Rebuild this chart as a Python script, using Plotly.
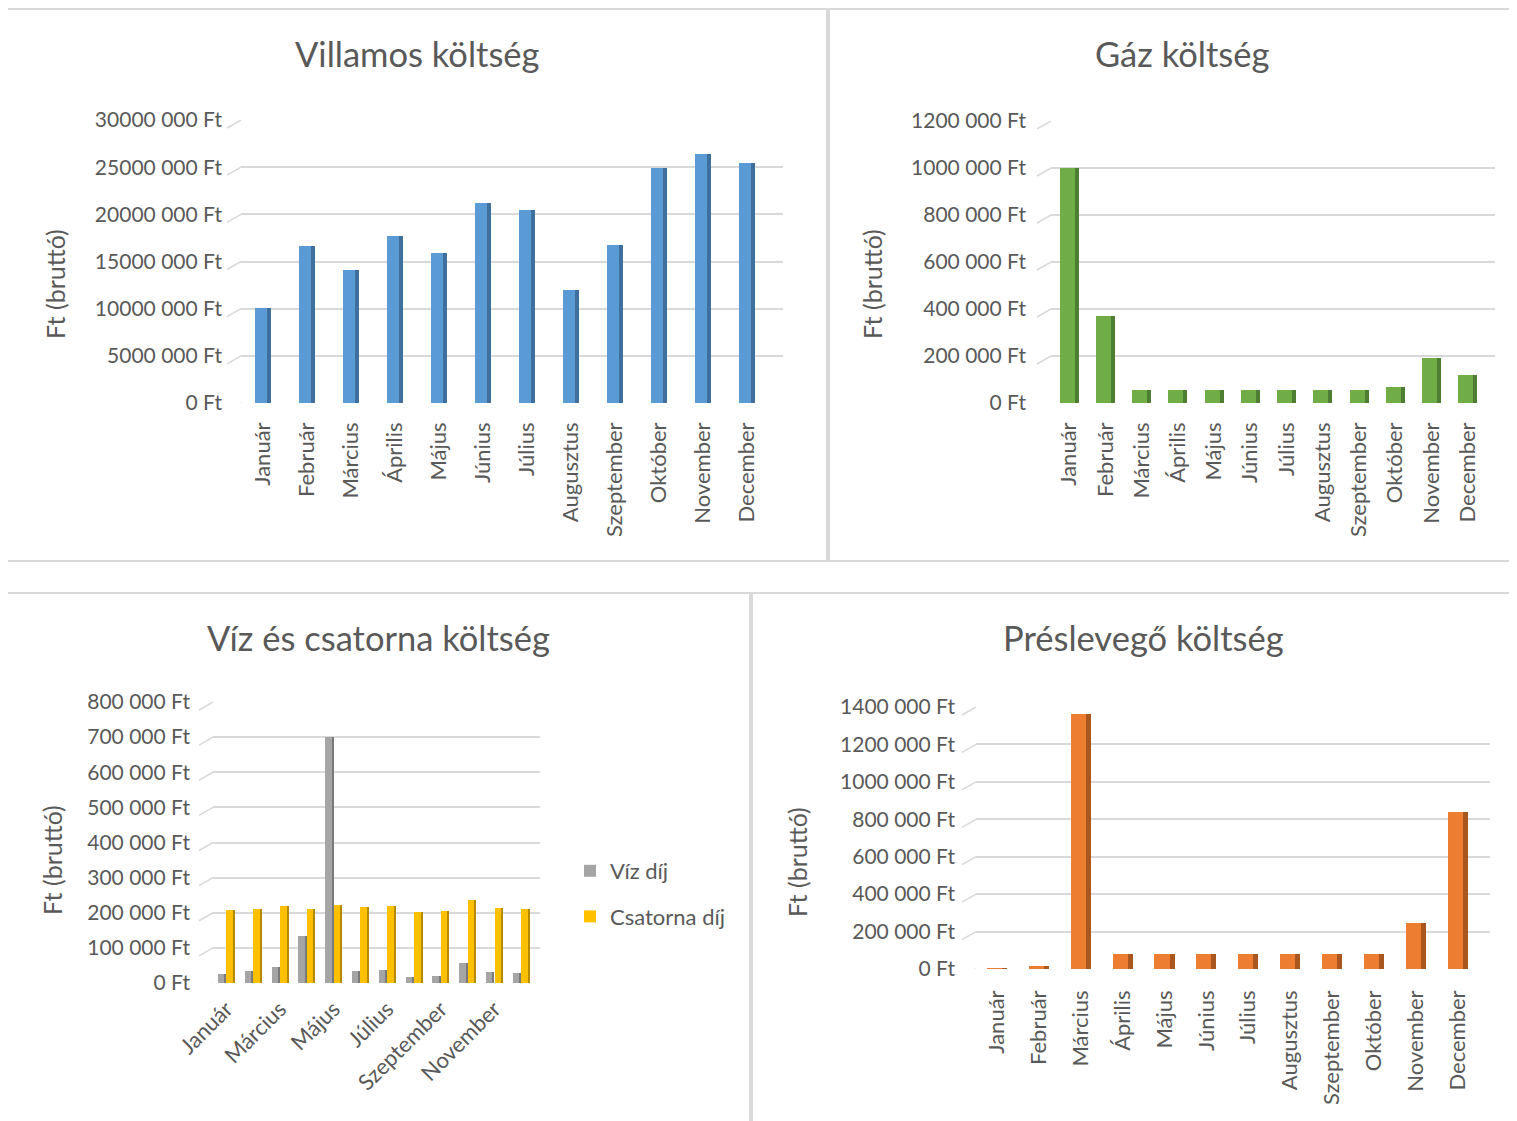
import plotly.graph_objects as go

# the page places the figure 8 px from the top-left corner (body margin)
OFF = 8
W, H = 1517 - OFF, 1121 - OFF

months = ["Január", "Február", "Március", "Április", "Május", "Június", "Július",
          "Augusztus", "Szeptember", "Október", "November", "December"]

villamos = [10.1e6, 16.6e6, 14.1e6, 17.7e6, 15.9e6, 21.2e6, 20.5e6, 12.0e6, 16.8e6, 24.9e6, 26.4e6, 25.4e6]
gaz = [1000000, 370000, 55000, 55000, 55000, 55000, 55000, 55000, 55000, 67000, 192000, 118000]
viz_dij = [25000, 33000, 45000, 135000, 700000, 35000, 37000, 18000, 21000, 57000, 32000, 28000]
csatorna_dij = [207000, 212000, 218000, 212000, 221000, 216000, 218000, 201000, 204000, 236000, 214000, 210000]
preslevego = [5000, 15000, 1360000, 78000, 78000, 78000, 78000, 78000, 78000, 78000, 245000, 840000]

villamos_ticks = [0, 5e6, 10e6, 15e6, 20e6, 25e6, 30e6]
villamos_ticktext = ["0 Ft", "5000 000 Ft", "10000 000 Ft", "15000 000 Ft", "20000 000 Ft", "25000 000 Ft", "30000 000 Ft"]
gaz_ticks = [0, 200000, 400000, 600000, 800000, 1000000, 1200000]
gaz_ticktext = ["0 Ft", "200 000 Ft", "400 000 Ft", "600 000 Ft", "800 000 Ft", "1000 000 Ft", "1200 000 Ft"]
viz_ticks = [0, 100000, 200000, 300000, 400000, 500000, 600000, 700000, 800000]
viz_ticktext = ["0 Ft", "100 000 Ft", "200 000 Ft", "300 000 Ft", "400 000 Ft", "500 000 Ft", "600 000 Ft", "700 000 Ft", "800 000 Ft"]
pres_ticks = [0, 200000, 400000, 600000, 800000, 1000000, 1200000, 1400000]
pres_ticktext = ["0 Ft", "200 000 Ft", "400 000 Ft", "600 000 Ft", "800 000 Ft", "1000 000 Ft", "1200 000 Ft", "1400 000 Ft"]
viz_month_ticks = ["Január", "Március", "Május", "Július", "Szeptember", "November"]

titles = ["Villamos költség", "Gáz költség", "Víz és csatorna költség", "Préslevegő költség"]
ytitle = "Ft (bruttó)"
series_names = ["Víz díj", "Csatorna díj"]

FONT = "Lato, 'Open Sans', sans-serif"
TXT = "#595959"
GRID = "#D9D9D9"


def px(x):
    return (x - OFF) / W


def py(y):
    return 1 - (y - OFF) / H


fig = go.Figure()


def add3d(xa, ya, x, y, front, side, c, fw, sw, name=None, showlegend=False, legendgroup=None):
    start = c - (fw + sw) / 2
    fig.add_trace(go.Bar(x=x, y=y, xaxis=xa, yaxis=ya, marker=dict(color=front, line=dict(width=0)),
                         width=fw, offset=start, name=name, showlegend=showlegend,
                         legendgroup=legendgroup, hoverinfo="x+y"))
    fig.add_trace(go.Bar(x=x, y=y, xaxis=xa, yaxis=ya, marker=dict(color=side, line=dict(width=0)),
                         width=sw, offset=start + fw, showlegend=False, legendgroup=legendgroup,
                         hoverinfo="skip"))


# Chart 1
add3d("x", "y", months, villamos, "#5B9BD5", "#3F6F9C", 0.0, 0.27, 0.09)
# Chart 2
add3d("x2", "y2", months, gaz, "#70AD47", "#4E7E31", 0.0, 0.41, 0.11)
# Chart 3
add3d("x3", "y3", months, viz_dij, "#A5A5A5", "#7A7A7A", -0.16, 0.24, 0.075,
      name=series_names[0], showlegend=True, legendgroup="g1")
add3d("x3", "y3", months, csatorna_dij, "#FFC000", "#B88A00", 0.16, 0.24, 0.075,
      name=series_names[1], showlegend=True, legendgroup="g2")
# Chart 4
add3d("x4", "y4", months, preslevego, "#ED7D31", "#A9561F", 0.0, 0.36, 0.12)

tickfont = dict(family=FONT, size=21, color=TXT)
catfont = dict(family=FONT, size=22, color=TXT)


def xaxis(dom, rng, angle, standoff, tickvals=None):
    d = dict(domain=[px(dom[0]), px(dom[1])], range=rng, type="category",
             showgrid=False, showline=False, zeroline=False, ticks="", automargin=False,
             tickangle=angle, tickfont=catfont, ticklabelstandoff=standoff,
             categoryorder="array", categoryarray=months)
    if tickvals is not None:
        d["tickvals"] = tickvals
        d["ticktext"] = tickvals
    return d


def yaxis(anchor, top, bottom, rng, tv, tt, standoff):
    return dict(anchor=anchor, domain=[py(bottom), py(top)], range=rng, tickvals=tv, ticktext=tt,
                showgrid=True, gridcolor=GRID, gridwidth=1.5, zeroline=False, showline=False,
                ticks="", tickfont=tickfont, ticklabelstandoff=standoff, automargin=False)


fig.update_layout(
    width=W, height=H, margin=dict(l=0, r=0, t=0, b=0, pad=0, autoexpand=False),
    paper_bgcolor="white", plot_bgcolor="rgba(0,0,0,0)",
    barmode="overlay", bargap=0,
    xaxis=dict(xaxis((241, 783), [-0.5, 11.82], -90, 14), anchor="y"),
    yaxis=yaxis("x", 120, 403, [0, 30e6], villamos_ticks, villamos_ticktext, 18),
    xaxis2=dict(xaxis((1051, 1495), [-0.5, 11.75], -90, 14), anchor="y2"),
    yaxis2=yaxis("x2", 121, 403, [0, 1.2e6], gaz_ticks, gaz_ticktext, 24),
    xaxis3=dict(xaxis((213, 540), [-0.5, 11.7], -45, 8, viz_month_ticks), anchor="y3"),
    yaxis3=yaxis("x3", 702, 983, [0, 800000], viz_ticks, viz_ticktext, 22),
    xaxis4=dict(xaxis((976, 1490), [-0.5, 11.77], -90, 16), anchor="y4"),
    yaxis4=yaxis("x4", 707, 969, [0, 1.4e6], pres_ticks, pres_ticktext, 20),
    legend=dict(x=px(570), y=py(850), xanchor="left", yanchor="top",
                font=dict(family=FONT, size=22, color=TXT), tracegroupgap=14,
                bgcolor="rgba(0,0,0,0)"),
    showlegend=True,
)

# chart borders
shapes = []
for (x0, y0, x1, y1) in [(7, 9, 827, 561), (829, 9, 1525, 561), (7, 593, 750, 1130), (752, 593, 1525, 1130)]:
    shapes.append(dict(type="rect", xref="paper", yref="paper", x0=px(x0), x1=px(x1), y0=py(y1), y1=py(y0),
                       line=dict(color="#D9D9D9", width=2), fillcolor="rgba(0,0,0,0)", layer="below"))

# 3D perspective diagonals at gridline starts
for xr, yr, tv in [("x domain", "y", villamos_ticks), ("x2 domain", "y2", gaz_ticks),
                   ("x3 domain", "y3", viz_ticks), ("x4 domain", "y4", pres_ticks)]:
    for v in tv:
        shapes.append(dict(type="line", xref=xr, yref=yr, xsizemode="pixel", ysizemode="pixel",
                           xanchor=0, yanchor=v, x0=-14, y0=-8, x1=0, y1=0,
                           line=dict(color=GRID, width=1.5), layer="below"))
fig.update_layout(shapes=shapes)

ann = []
for t, (x, y) in zip(titles, [(417, 53), (1182, 53), (378, 637), (1143, 637)]):
    ann.append(dict(text=t, x=px(x), y=py(y), xref="paper", yref="paper", showarrow=False,
                    xanchor="center", yanchor="middle", font=dict(family=FONT, size=34.5, color=TXT)))
for (x, y) in [(55, 284), (872, 284), (52, 860), (797, 862)]:
    ann.append(dict(text=ytitle, x=px(x), y=py(y), xref="paper", yref="paper", showarrow=False,
                    textangle=-90, xanchor="center", yanchor="middle",
                    font=dict(family=FONT, size=25, color=TXT)))
fig.update_layout(annotations=ann)

fig.write_html("out.html")
